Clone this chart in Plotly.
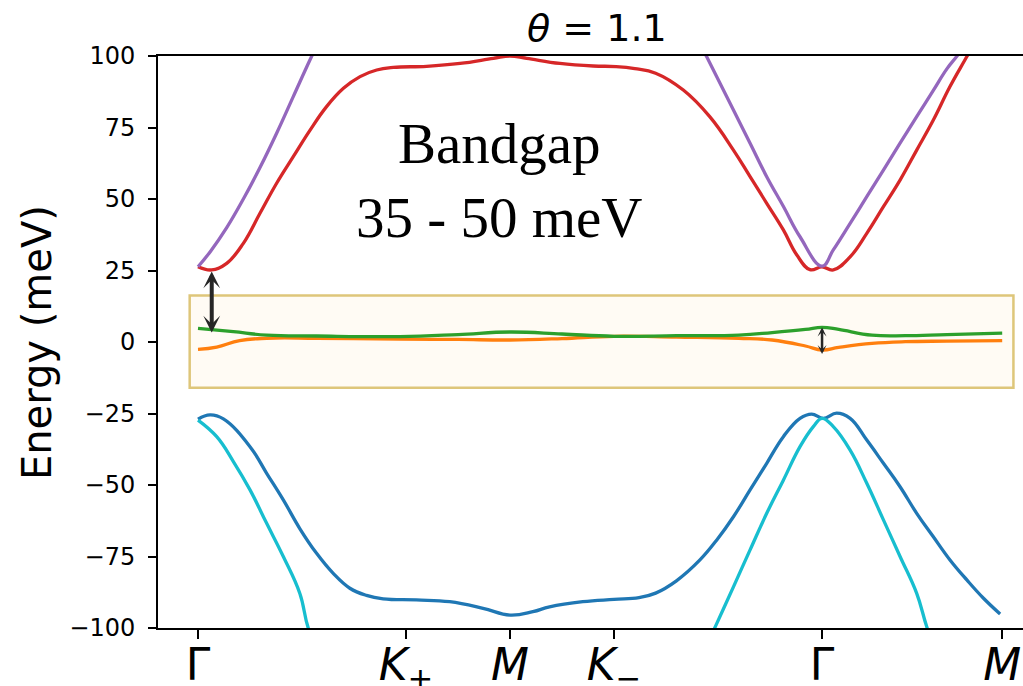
import plotly.graph_objects as go

# k-path positions of the high-symmetry points (Γ–K+–M–K−–Γ–M)
sym_k = [0.0, 1.0, 1.5, 2.0, 3.0, 3.866]
sym_labels = ["Γ", "<i>K</i><sub>+</sub>", "<i>M</i>", "<i>K</i><sub>−</sub>", "Γ", "<i>M</i>"]

y_ticks = [-100, -75, -50, -25, 0, 25, 50, 75, 100]
y_tick_labels = ["−100", "−75", "−50", "−25", "0", "25", "50", "75", "100"]

# remote valence band (blue)
k_blue = [0.0, 0.058, 0.122, 0.25, 0.33, 0.41, 0.49, 0.57, 0.65, 0.73, 0.81, 0.89, 1.05, 1.21,
          1.37, 1.5, 1.61, 1.69, 1.85, 2.0, 2.12, 2.2, 2.3, 2.413, 2.494, 2.574, 2.654,
          2.734, 2.814, 2.894, 2.95, 3.006, 3.07, 3.135, 3.215, 3.295, 3.375, 3.455, 3.535,
          3.615, 3.696, 3.776, 3.856]
E_blue = [-27.0, -25.5, -26.9, -36.6, -45.9, -55.2, -65.3, -73.9, -80.9, -86.1, -88.6, -89.8, -90.2, -90.8,
          -93.1, -95.5, -94.3, -92.6, -90.8, -90.0, -89.4, -87.8, -83.5, -76.2, -69.2, -61.1, -51.7,
          -42.4, -33.1, -26.7, -25.2, -26.7, -24.9, -26.7, -34.3, -42.4, -50.6, -59.9, -68.1,
          -76.2, -83.2, -89.6, -95.1]

# flat band below charge neutrality (orange)
k_orange = [0.0, 0.09, 0.2, 0.33, 0.57, 0.97, 1.25, 1.5, 1.75, 2.0, 2.3, 2.6, 2.76, 2.92,
            3.0, 3.08, 3.24, 3.4, 3.6, 3.866]
E_orange = [-2.6, -1.8, 0.5, 1.3, 1.3, 1.0, 0.9, 0.7, 1.2, 2.0, 1.7, 1.3, 0.7, -1.4,
            -2.8, -1.9, -0.5, 0.1, 0.3, 0.5]

# flat band above charge neutrality (green)
k_green = [0.0, 0.17, 0.33, 0.57, 0.97, 1.25, 1.5, 1.75, 2.0, 2.3, 2.6, 2.76, 2.92,
           3.0, 3.08, 3.24, 3.4, 3.6, 3.866]
E_green = [4.8, 3.6, 2.4, 2.1, 1.9, 2.6, 3.5, 2.8, 2.0, 2.2, 2.4, 3.3, 4.4,
           5.1, 4.4, 2.4, 2.2, 2.6, 3.1]

# remote conduction band (red)
k_red = [0.0, 0.066, 0.138, 0.218, 0.298, 0.378, 0.458, 0.538, 0.618, 0.699, 0.779, 0.859,
         0.939, 1.099, 1.26, 1.42, 1.5, 1.58, 1.74, 1.90, 2.01, 2.1, 2.2, 2.333, 2.46,
         2.574, 2.654, 2.734, 2.814, 2.878, 2.942, 3.0, 3.054, 3.135, 3.215, 3.295, 3.375,
         3.455, 3.535, 3.615, 3.696, 3.75, 3.866]
E_red = [26.3, 25.2, 27.5, 34.5, 45.0, 55.5, 64.8, 74.0, 82.3, 88.7, 92.8, 95.1,
         96.0, 96.4, 97.4, 99.2, 100.0, 99.2, 97.4, 96.5, 96.3, 95.6, 94.0, 88.1, 78.8,
         67.1, 57.8, 48.5, 39.2, 30.5, 25.3, 26.3, 25.2, 29.8, 38.0, 47.3, 56.6,
         67.1, 77.6, 89.3, 99.8, 107.0, 118.0]

# second remote conduction band (purple), leaving the window between the two Γ valleys
k_purple = [0.0, 0.058, 0.138, 0.218, 0.298, 0.378, 0.458, 0.538, 0.6, None,
            2.39, 2.445, 2.574, 2.654, 2.734, 2.815, 2.894, 3.0, 3.054, 3.135, 3.215,
            3.295, 3.375, 3.455, 3.535, 3.6, 3.647, 3.7]
E_purple = [26.3, 31.5, 40.0, 50.0, 61.0, 73.0, 85.8, 98.6, 108.0, None,
            108.0, 99.8, 81.1, 69.5, 57.8, 47.3, 36.8, 26.5, 32.2, 41.5, 50.8,
            60.1, 69.5, 78.8, 88.0, 95.5, 99.8, 105.0]

# second remote valence band (cyan)
k_cyan = [0.0, 0.09, 0.17, 0.25, 0.33, 0.41, 0.49, 0.53, 0.6, None,
          2.42, 2.487, 2.574, 2.654, 2.734, 2.814, 2.894, 2.958, 3.0, 3.054, 3.135,
          3.215, 3.295, 3.375, 3.455, 3.503, 3.56]
E_cyan = [-27.3, -33.1, -41.8, -51.7, -63.4, -75.0, -88.0, -100.0, -112.0, None,
          -110.0, -99.5, -85.6, -72.7, -59.9, -48.3, -36.6, -29.6, -26.7, -29.6, -37.8,
          -49.4, -62.2, -75.0, -87.9, -99.5, -111.0]

bands = [
    (k_blue, E_blue, "#1f77b4"),
    (k_orange, E_orange, "#ff7f0e"),
    (k_green, E_green, "#2ca02c"),
    (k_red, E_red, "#d62728"),
    (k_purple, E_purple, "#9467bd"),
    (k_cyan, E_cyan, "#17becf"),
]

# flat-band window and gap markers
window_k = (-0.04, 3.92)
window_E = (-16.0, 16.3)
gap_arrow_big = (0.066, 25.2, 3.3)     # k, upper end, lower end
gap_arrow_small = (3.0, 5.6, -4.2)

fig = go.Figure()
for k, E, color in bands:
    fig.add_trace(go.Scatter(
        x=k, y=E, mode="lines", showlegend=False,
        line=dict(color=color, width=3.3, shape="spline", smoothing=1.2),
        connectgaps=False, hoverinfo="skip",
    ))

fig.add_shape(
    type="rect", xref="x", yref="y", layer="below",
    x0=window_k[0], x1=window_k[1], y0=window_E[0], y1=window_E[1],
    fillcolor="rgba(255,165,0,0.045)",
    line=dict(color="rgb(222,198,122)", width=2.5),
)

for (ka, e_hi, e_lo), w, s in [(gap_arrow_big, 4, 0.7), (gap_arrow_small, 2.5, 0.6)]:
    fig.add_annotation(
        x=ka, y=e_lo, ax=ka, ay=e_hi, xref="x", yref="y", axref="x", ayref="y",
        text="", showarrow=True, arrowhead=3, startarrowhead=3,
        arrowside="end+start", arrowwidth=w, arrowsize=s, startarrowsize=s,
        arrowcolor="#262626", standoff=0, startstandoff=0,
    )

fig.add_annotation(
    x=1.45, y=56.5, xref="x", yref="y", showarrow=False,
    text="Bandgap<br>35 - 50 meV",
    font=dict(family="Liberation Serif", size=57, color="black"),
    xanchor="center", yanchor="middle",
)

# title centred over the full axis width
fig.add_annotation(
    x=(597 - 158) / 865, y=1, xref="paper", yref="paper", yanchor="bottom",
    xanchor="center", showarrow=False, yshift=4,
    text="<i>θ</i> = 1.1",
    font=dict(family="DejaVu Sans", size=38, color="black"),
)

fig.add_annotation(
    x=(37 - 158) / 865, y=0.5, xref="paper", yref="paper", showarrow=False,
    textangle=-90, xanchor="center", yanchor="middle",
    text="Energy (meV)",
    font=dict(family="DejaVu Sans", size=40, color="black"),
)

fig.update_layout(
    width=1023, height=686,
    margin=dict(l=158, r=0, t=56, b=58),
    paper_bgcolor="white", plot_bgcolor="white",
    font=dict(family="DejaVu Sans", color="black"),
)
fig.update_xaxes(
    range=[-0.1923, 3.966], tickmode="array", tickvals=sym_k, ticktext=sym_labels,
    tickfont=dict(family="DejaVu Sans", size=44, color="black"),
    ticks="outside", ticklen=9, tickwidth=2, tickcolor="black",
    showline=True, linecolor="black", linewidth=2, mirror=True,
    showgrid=False, zeroline=False, ticklabelstandoff=-12, automargin=False,
)
fig.update_yaxes(
    range=[-100, 100], tickmode="array", tickvals=y_ticks, ticktext=y_tick_labels,
    tickfont=dict(family="DejaVu Sans", size=24, color="black"),
    ticks="outside", ticklen=8, tickwidth=2, tickcolor="black",
    showline=True, linecolor="black", linewidth=2,
    showgrid=False, zeroline=False, ticklabelstandoff=8, automargin=False,
)

fig.write_html("out.html")
